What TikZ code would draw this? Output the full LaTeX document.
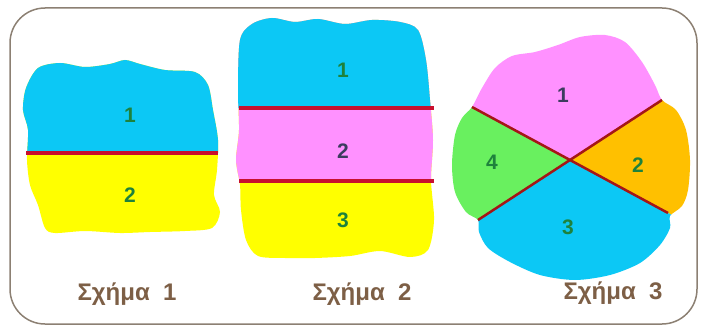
\documentclass[tikz,border=0pt]{standalone}
\usepackage{fontspec}
\setmainfont{Liberation Sans}
\definecolor{skyfill}{RGB}{12,200,245}
\definecolor{lemonfill}{RGB}{255,255,0}
\definecolor{rosefill}{RGB}{255,145,255}
\definecolor{limefill}{RGB}{105,240,95}
\definecolor{amberfill}{RGB}{255,192,0}
\definecolor{cutred}{RGB}{200,16,46}
\definecolor{cutdark}{RGB}{165,22,22}
\definecolor{numgreen}{RGB}{30,130,60}
\definecolor{numslate}{RGB}{60,60,95}
\definecolor{capbrown}{RGB}{125,95,70}
\definecolor{framegray}{RGB}{140,128,115}
\begin{document}
\begin{tikzpicture}[x=1pt,y=-1pt]
\tikzstyle{frame} 	= [draw = framegray, line width = 1.5pt, rounded corners = 35pt] % outer box
\tikzstyle{num} 	= [font = \bfseries\fontsize{21}{21}\selectfont, text = numgreen] % region number
\tikzstyle{numpink} = [num, text = numslate] % region number on pink
\tikzstyle{figcap} 	= [font = \bfseries\fontsize{24}{24}\selectfont, text = capbrown] % figure caption
\tikzstyle{cut} 	= [line width = 3.5pt, color = cutred] % straight cut
\tikzstyle{cutthin} = [line width = 2.5pt, color = cutdark] % diagonal cut

\useasboundingbox (0,0) rectangle (702,329);
\draw[frame] (10,8) rectangle (697,324);

% figure 1: two strips
\begin{scope}
\clip plot[smooth cycle] coordinates {(26,88) (38,68) (60,63) (85,67) (110,64) (125,60) (140,64) (165,70) (195,72) (208,85) (213,110) (218,140) (217,170) (214,195) (220,212) (212,228) (185,231) (150,232) (120,233) (85,231) (55,233) (45,228) (38,205) (30,185) (27,160) (28,130) (23,110)};
\fill[lemonfill] (0,0) rectangle (240,250);
\fill[skyfill] (0,0) rectangle (240,153);
\end{scope}
\coordinate (aL) at (26,153);
\coordinate (aR) at (218,153);
\draw[cut] (aL) -- (aR);
\node(a1)[num] at (130,115){1};
\node(a2)[num] at (130,195){2};
\node(capA)[figcap] at (127,294){Σχήμα\ \ 1};

% figure 2: three strips
\begin{scope}
\clip plot[smooth cycle] coordinates {(240,40) (252,24) (272,18) (295,22) (318,19) (345,24) (372,20) (400,22) (418,30) (426,60) (430,100) (433,140) (431,180) (434,220) (428,250) (410,257) (380,251) (350,256) (315,258) (285,258) (258,256) (246,240) (241,210) (240,185) (236,160) (239,130) (238,90)};
\fill[lemonfill] (230,0) rectangle (445,270);
\fill[rosefill] (230,0) rectangle (445,181);
\fill[skyfill] (230,0) rectangle (445,108);
\end{scope}
\coordinate (bL1) at (239,108);
\coordinate (bR1) at (434,108);
\coordinate (bL2) at (239,181);
\coordinate (bR2) at (434,181);
\draw[cut] (bL1) -- (bR1);
\draw[cut] (bL2) -- (bR2);
\node(b1)[num] at (343,70){1};
\node(b2)[numpink] at (343,151){2};
\node(b3)[num] at (343,220){3};
\node(capB)[figcap] at (362,294){Σχήμα\ \ 2};

% figure 3: four sectors
\coordinate (mid) at (569,160);
\coordinate (cNW) at (472,107);
\coordinate (cNE) at (662,100);
\coordinate (cSE) at (668,213);
\coordinate (cSW) at (478,220);
\begin{scope}
\clip plot[smooth cycle] coordinates {(472,107) (482,88) (495,68) (512,56) (535,52) (558,45) (580,37) (605,35) (625,42) (642,62) (655,85) (662,100) (676,110) (686,130) (690,160) (688,190) (682,206) (670,216) (670,228) (660,245) (640,263) (610,275) (575,280) (540,275) (510,262) (488,248) (479,232) (478,220) (466,212) (455,192) (452,165) (455,135) (462,118)};
\fill[rosefill] (mid) -- (375,54) -- (375,0) -- (760,0) -- (755,40) -- cycle;
\fill[amberfill] (mid) -- (755,40) -- (800,40) -- (800,300) -- (767,266) -- cycle;
\fill[skyfill] (mid) -- (767,266) -- (767,400) -- (387,400) -- (387,280) -- cycle;
\fill[limefill] (mid) -- (387,280) -- (300,280) -- (300,54) -- (375,54) -- cycle;
\end{scope}
\draw[cutthin] (cNW) -- (cSE);
\draw[cutthin] (cNE) -- (cSW);
\node(c1)[numpink] at (563,95){1};
\node(c2)[num] at (638,165){2};
\node(c3)[num] at (568,227){3};
\node(c4)[num] at (492,162){4};
\node(capC)[figcap] at (613,293){Σχήμα\ \ 3};
\end{tikzpicture}
\end{document}
